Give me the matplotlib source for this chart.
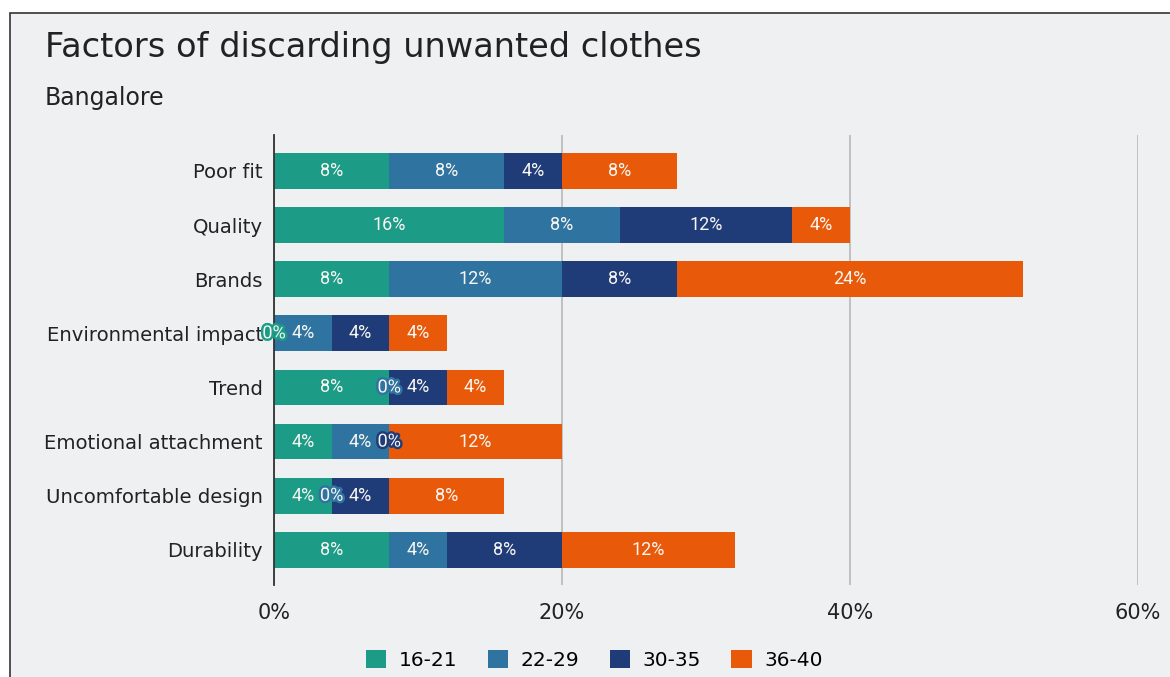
import matplotlib.pyplot as plt
import matplotlib.patheffects as pe
from matplotlib.patches import Rectangle
import numpy as np

factors = ['Poor fit', 'Quality', 'Brands', 'Environmental impact', 'Trend',
           'Emotional attachment', 'Uncomfortable design', 'Durability']
age_groups = ['16-21', '22-29', '30-35', '36-40']
share_16_21 = [8, 16, 8, 0, 8, 4, 4, 8]
share_22_29 = [8, 8, 12, 4, 0, 4, 0, 4]
share_30_35 = [4, 12, 8, 4, 4, 0, 4, 8]
share_36_40 = [8, 4, 24, 4, 4, 12, 8, 12]
colors = ['#1c9c87', '#2f74a0', '#1f3c78', '#e85a0a']

bg = '#eef0f2'
plt.rcParams['font.family'] = 'DejaVu Sans'

fig = plt.figure(figsize=(11.7, 6.77), dpi=100, facecolor='white')
# panel with a dark border, cut off on the right and bottom
fig.patches.append(Rectangle((10 / 1170, -0.05), 1.2, 1 - 13 / 677 + 0.05,
                             transform=fig.transFigure, facecolor=bg,
                             edgecolor='#333333', linewidth=1.2, zorder=-10))

ax = fig.add_axes([274 / 1170, 1 - 585 / 677, 864 / 1170, 450 / 677])
ax.set_zorder(1)
ax.patch.set_alpha(0)

series = [share_16_21, share_22_29, share_30_35, share_36_40]
y = np.arange(len(factors))
left = np.zeros(len(factors))
for name, vals, col in zip(age_groups, series, colors):
    vals = np.array(vals, dtype=float)
    ax.barh(y, vals, left=left, height=0.66, color=col, label=name, zorder=3)
    for yi, l, v in zip(y, left, vals):
        cx = l + v / 2
        t = ax.text(cx, yi, f'{v:.0f}%', ha='center', va='center',
                    color='#f8f6f2', fontsize=13, family='Roboto', zorder=5)
        if v == 0:
            t.set_path_effects([pe.Stroke(linewidth=3.5, foreground=col),
                                pe.Normal()])
    left += vals

ax.set_xlim(0, 60)
ax.set_ylim(len(factors) - 1 + 0.65, -0.665)
ax.set_xticks([0, 20, 40, 60])
ax.set_xticklabels(['0%', '20%', '40%', '60%'])
ax.set_yticks(y)
ax.set_yticklabels(factors)
ax.tick_params(axis='both', length=0, colors='#222222')
ax.tick_params(axis='y', pad=8, labelsize=14.1)
ax.tick_params(axis='x', pad=13, labelsize=15)
ax.grid(axis='x', color='#bdbdbd', linewidth=1.3, zorder=0)
for s in ['top', 'right', 'bottom']:
    ax.spines[s].set_visible(False)
ax.spines['left'].set_color('#333333')
ax.spines['left'].set_linewidth(1.3)
ax.spines['left'].set_zorder(4)

fig.text(45 / 1170, 1 - 48 / 677, 'Factors of discarding unwanted clothes',
         fontsize=24.2, color='#222222', va='center', ha='left')
fig.text(45 / 1170, 1 - 98 / 677, 'Bangalore', fontsize=17,
         color='#222222', va='center', ha='left')

fig.legend(loc='center', bbox_to_anchor=(0.508, 1 - 660 / 677), ncol=4,
           frameon=False, fontsize=14.5, handlelength=1.0, handleheight=1.0,
           columnspacing=1.5, handletextpad=0.65)

fig.savefig('out.png', dpi=100, facecolor='white')
